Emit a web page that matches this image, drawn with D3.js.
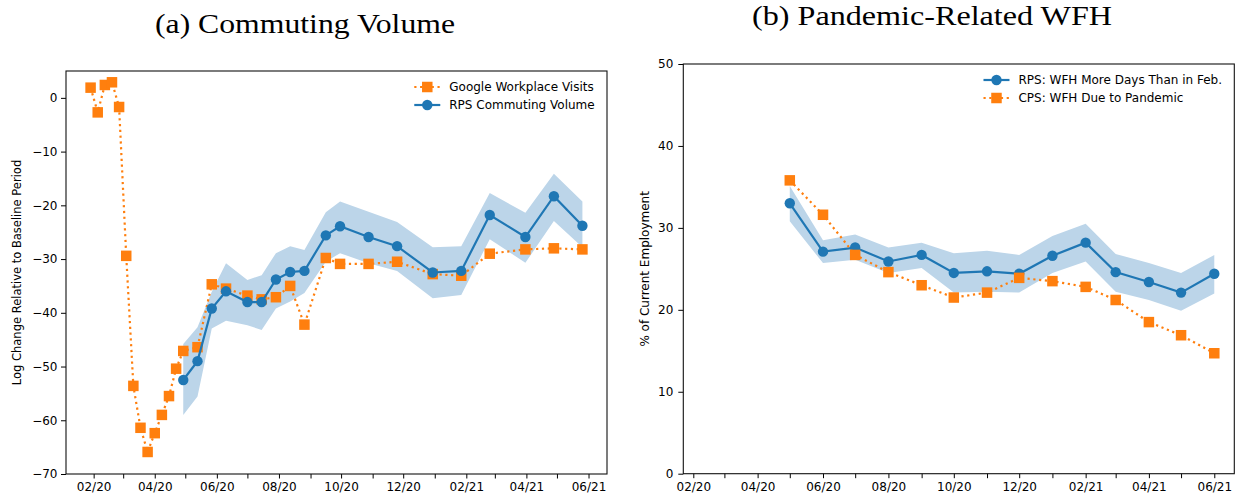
<!DOCTYPE html>
<html>
<head>
<meta charset="utf-8">
<script src="https://cdn.jsdelivr.net/npm/d3@7"></script>
<style>
  html, body { margin: 0; padding: 0; background: #fff; }
  svg { display: block; }
  .tick text { font-family: "DejaVu Sans", sans-serif; font-size: 12px; fill: #000; }
  .tick line { stroke: #000; stroke-width: 1; }
</style>
</head>
<body>
<svg id="chart" width="1240" height="500"></svg>
<script>
// ---- Panel (a): commuting volume ----
const googleDates = ["2020-01-29","2020-02-05","2020-02-12","2020-02-19","2020-02-26","2020-03-04",
  "2020-03-11","2020-03-18","2020-03-25","2020-04-01","2020-04-08","2020-04-15","2020-04-22",
  "2020-04-29","2020-05-13","2020-05-27","2020-06-10","2020-07-01","2020-07-15","2020-07-29",
  "2020-08-12","2020-08-26","2020-09-16","2020-09-30","2020-10-28","2020-11-25","2020-12-30",
  "2021-01-27","2021-02-24","2021-03-31","2021-04-28","2021-05-26"];
const googleValues = [1.9,-2.7,2.4,2.9,-1.7,-29.4,-53.6,-61.4,-65.9,-62.4,-59.0,-55.5,-50.4,
  -47.1,-46.4,-34.7,-35.5,-36.8,-37.5,-37.1,-35.0,-42.2,-29.8,-30.9,-30.9,-30.5,-32.8,
  -33.1,-29.0,-28.2,-28.0,-28.2];

const rpsDates = googleDates.slice(13);
const rpsValues = [-52.5,-49.0,-39.2,-36.0,-38.0,-38.0,-33.8,-32.4,-32.2,-25.6,-23.9,-25.9,
  -27.6,-32.5,-32.2,-21.8,-25.9,-18.3,-23.8];
const rpsUpper = [-45.8,-42.7,-36.1,-30.8,-33.9,-33.0,-28.9,-27.6,-28.3,-21.3,-19.3,-21.2,
  -23.1,-27.8,-27.6,-17.7,-21.4,-14.1,-19.3];
const rpsLower = [-59.0,-55.6,-42.9,-41.5,-42.3,-43.2,-39.2,-37.9,-36.3,-30.5,-28.9,-30.8,
  -32.2,-37.3,-36.7,-26.3,-30.7,-22.9,-27.8];
const commuteTicks = [0,-10,-20,-30,-40,-50,-60,-70];

// ---- Panel (b): pandemic-related WFH ----
const wfhDates = ["2020-05-01","2020-06-01","2020-07-01","2020-08-01","2020-09-01","2020-10-01",
  "2020-11-01","2020-12-01","2021-01-01","2021-02-01","2021-03-01","2021-04-01","2021-05-01",
  "2021-06-01"];
const rpsWfh = [33.0,27.1,27.6,25.9,26.7,24.5,24.7,24.4,26.6,28.2,24.6,23.4,22.1,24.4];
const rpsWfhUpper = [35.1,28.5,29.2,27.6,28.2,26.9,27.2,26.7,29.0,30.5,26.8,25.7,24.5,26.7];
const rpsWfhLower = [30.8,25.7,26.1,24.5,25.1,22.1,22.2,22.1,24.5,25.9,22.2,21.2,19.9,22.0];
const cpsWfh = [35.8,31.6,26.7,24.6,23.0,21.5,22.1,23.9,23.5,22.8,21.2,18.5,16.9,14.7];
const wfhTicks = [0,10,20,30,40,50];

const BLUE = "#1f77b4", ORANGE = "#ff7f0e", BAND = "#bcd5e9";
const parse = d3.utcParse("%Y-%m-%d");
const fmtMonth = d3.utcFormat("%m/%y");

const svg = d3.select("#chart");

function zip(dates, vals) { return dates.map((d, i) => ({ date: parse(d), v: vals[i] })); }
function zipBand(dates, lo, hi) { return dates.map((d, i) => ({ date: parse(d), lo: lo[i], hi: hi[i] })); }

function drawPanel(cfg) {
  const g = svg.append("g");
  const x = d3.scaleUtc().domain(cfg.xDomain).range([cfg.x0, cfg.x1]);
  const y = d3.scaleLinear().domain(cfg.yDomain).range([cfg.y1, cfg.y0]);

  // confidence band
  const area = d3.area().x(d => x(d.date)).y0(d => y(d.lo)).y1(d => y(d.hi));
  g.append("path").datum(cfg.band).attr("d", area).attr("fill", BAND).attr("stroke", "none");

  const line = d3.line().x(d => x(d.date)).y(d => y(d.v));

  function drawSeries(s) {
    const sg = g.append("g");
    sg.append("path").datum(s.data).attr("d", line).attr("fill", "none")
      .attr("stroke", s.color).attr("stroke-width", 2.2)
      .attr("stroke-dasharray", s.dotted ? "2.2,3.6" : null);
    if (s.marker === "circle") {
      sg.selectAll("circle").data(s.data).join("circle")
        .attr("cx", d => x(d.date)).attr("cy", d => y(d.v)).attr("r", 5.2).attr("fill", s.color);
    } else {
      const sz = 10.5;
      sg.selectAll("rect").data(s.data).join("rect")
        .attr("x", d => x(d.date) - sz / 2).attr("y", d => y(d.v) - sz / 2)
        .attr("width", sz).attr("height", sz).attr("fill", s.color);
    }
  }
  cfg.drawOrder.forEach(drawSeries);

  // axes: a tick every month, labels every other month
  const months = d3.utcMonth.range(d3.utcMonth.ceil(cfg.xDomain[0]), cfg.xDomain[1]);
  const xAxis = d3.axisBottom(x).tickValues(months).tickSize(4.5).tickPadding(4)
    .tickFormat(d => (d.getUTCMonth() % 2 === 1) ? fmtMonth(d) : "");
  g.append("g").attr("transform", `translate(0,${cfg.y1})`).call(xAxis)
    .call(a => a.select(".domain").remove());

  const yAxis = d3.axisLeft(y).tickValues(cfg.yTicks).tickSize(5).tickPadding(cfg.yPad)
    .tickFormat(d3.format("d"));
  g.append("g").attr("transform", `translate(${cfg.x0},0)`).call(yAxis)
    .call(a => a.select(".domain").remove());

  g.append("rect").attr("x", cfg.x0).attr("y", cfg.y0)
    .attr("width", cfg.x1 - cfg.x0).attr("height", cfg.y1 - cfg.y0)
    .attr("fill", "none").attr("stroke", "#111").attr("stroke-width", 1.1);

  // y label
  g.append("text")
    .attr("transform", `translate(${cfg.ylabelX},${(cfg.y0 + cfg.y1) / 2}) rotate(-90)`)
    .attr("text-anchor", "middle").attr("dominant-baseline", "central")
    .style("font-family", "'DejaVu Sans', sans-serif").style("font-size", cfg.ylabelSize + "px")
    .text(cfg.ylabel);

  // title
  g.append("text").attr("x", cfg.titleX).attr("y", cfg.titleY).attr("text-anchor", "middle")
    .attr("textLength", cfg.titleLen).attr("lengthAdjust", "spacingAndGlyphs")
    .style("font-family", "'Liberation Serif', 'DejaVu Serif', serif").style("font-size", "27.5px")
    .text(cfg.title);

  // legend, anchored to the upper-right corner of the axes
  const lg = g.append("g");
  const texts = cfg.legend.map((s, i) => lg.append("text")
    .attr("y", cfg.y0 + 16 + i * 18).attr("dominant-baseline", "central")
    .style("font-family", "'DejaVu Sans', sans-serif").style("font-size", "12px")
    .text(s.label));
  const maxW = d3.max(texts, t => t.node().getComputedTextLength());
  const tx = cfg.x1 - 12.3 - maxW;
  texts.forEach(t => t.attr("x", tx));
  cfg.legend.forEach((s, i) => {
    const ly = cfg.y0 + 16 + i * 18;
    lg.append("line").attr("x1", tx - 35).attr("x2", tx - 9).attr("y1", ly).attr("y2", ly)
      .attr("stroke", s.color).attr("stroke-width", 2.2)
      .attr("stroke-dasharray", s.dotted ? "2.2,3.6" : null);
    if (s.marker === "circle") {
      lg.append("circle").attr("cx", tx - 22).attr("cy", ly).attr("r", 5.2).attr("fill", s.color);
    } else {
      lg.append("rect").attr("x", tx - 22 - 5.25).attr("y", ly - 5.25)
        .attr("width", 10.5).attr("height", 10.5).attr("fill", s.color);
    }
  });
}

// panel (a)
const gData = zip(googleDates, googleValues);
const rData = zip(rpsDates, rpsValues);
const ext = d3.extent(gData, d => d.date);
const pad = (ext[1] - ext[0]) * 0.05;
const googleSeries = { label: "Google Workplace Visits", data: gData, color: ORANGE, dotted: true, marker: "square" };
const rpsSeries = { label: "RPS Commuting Volume", data: rData, color: BLUE, dotted: false, marker: "circle" };
drawPanel({
  x0: 66, x1: 607, y0: 71, y1: 474,
  xDomain: [new Date(+ext[0] - pad), new Date(+ext[1] + pad)],
  yDomain: [-70, 5], yTicks: commuteTicks, yPad: 3.5,
  band: zipBand(rpsDates, rpsLower, rpsUpper),
  drawOrder: [googleSeries, rpsSeries],
  legend: [googleSeries, rpsSeries],
  ylabel: "Log Change Relative to Baseline Period", ylabelX: 17, ylabelSize: 11.5,
  title: "(a) Commuting Volume", titleX: 305, titleY: 33, titleLen: 300
});

// panel (b)
const rpsWfhSeries = { label: "RPS: WFH More Days Than in Feb.", data: zip(wfhDates, rpsWfh), color: BLUE, dotted: false, marker: "circle" };
const cpsSeries = { label: "CPS: WFH Due to Pandemic", data: zip(wfhDates, cpsWfh), color: ORANGE, dotted: true, marker: "square" };
drawPanel({
  x0: 683.3, x1: 1234.3, y0: 64, y1: 473.7,
  xDomain: [new Date(Date.UTC(2020, 0, 22, 16)), new Date(Date.UTC(2021, 5, 19, 16))],
  yDomain: [0, 50], yTicks: wfhTicks, yPad: 5,
  band: zipBand(wfhDates, rpsWfhLower, rpsWfhUpper),
  drawOrder: [rpsWfhSeries, cpsSeries],
  legend: [rpsWfhSeries, cpsSeries],
  ylabel: "% of Current Employment", ylabelX: 645, ylabelSize: 12,
  title: "(b) Pandemic-Related WFH", titleX: 932, titleY: 25, titleLen: 360
});
</script>
</body>
</html>
